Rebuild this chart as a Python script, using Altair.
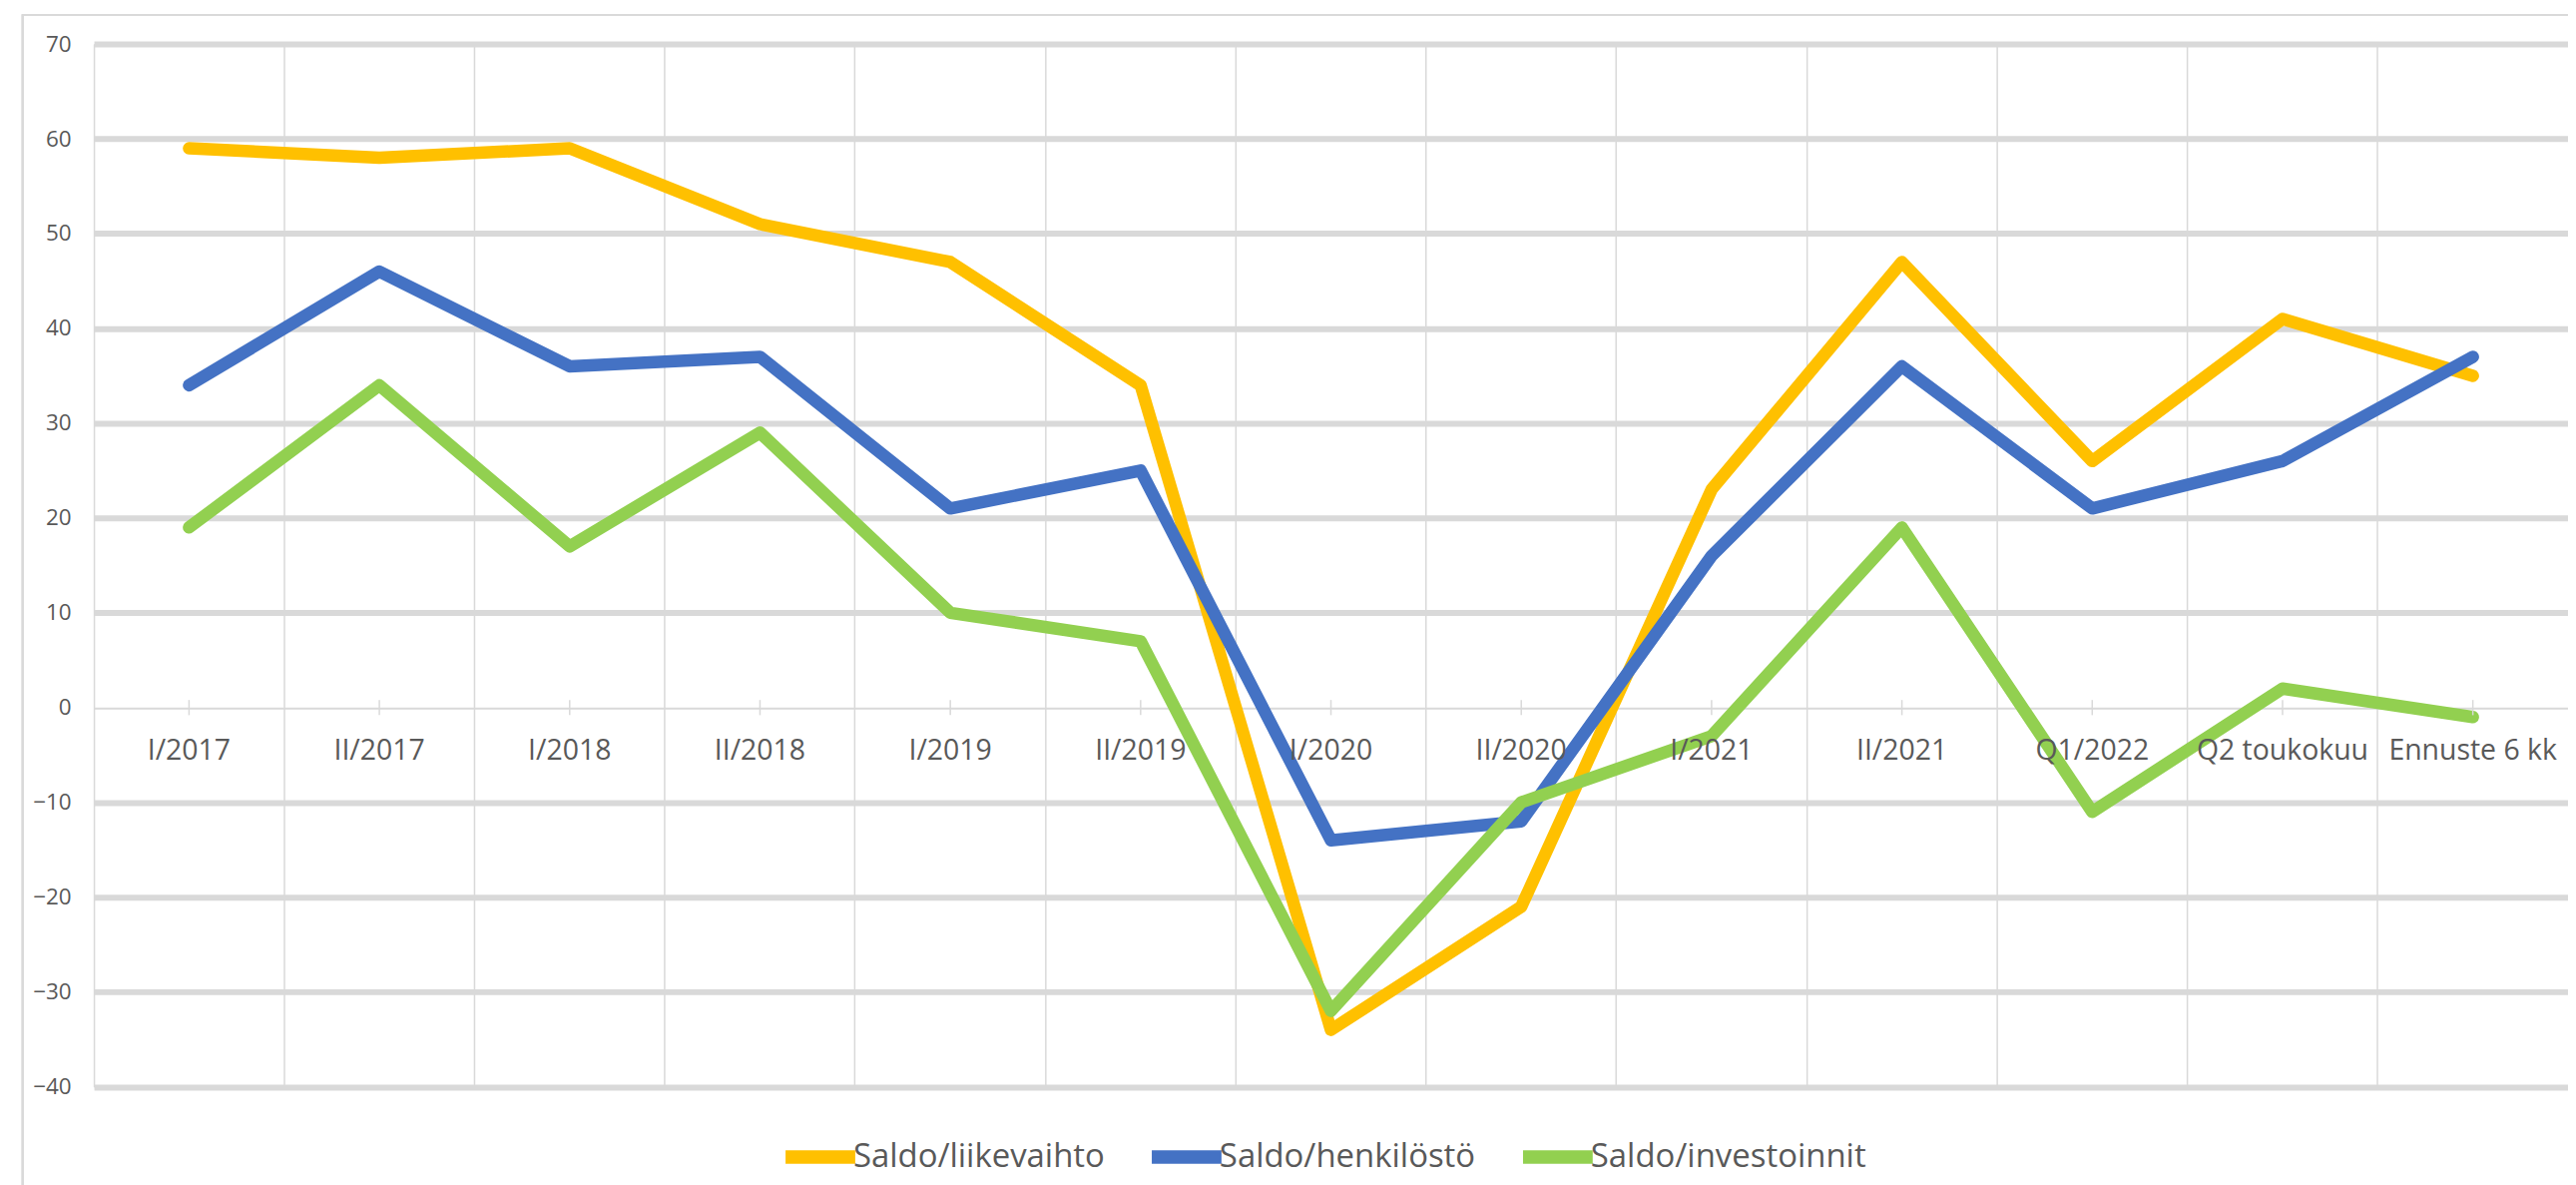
import altair as alt
import pandas as pd

categories = ["I/2017", "II/2017", "I/2018", "II/2018", "I/2019", "II/2019",
              "I/2020", "II/2020", "I/2021", "II/2021", "Q1/2022",
              "Q2 toukokuu", "Ennuste 6 kk"]
series_names = ["Saldo/liikevaihto", "Saldo/henkilöstö", "Saldo/investoinnit"]
liikevaihto = [59, 58, 59, 51, 47, 34, -34, -21, 23, 47, 26, 41, 35]
henkilosto = [34, 46, 36, 37, 21, 25, -14, -12, 16, 36, 21, 26, 37]
investoinnit = [19, 34, 17, 29, 10, 7, -32, -10, -3, 19, -11, 2, -1]
colors = ["#FFC000", "#4472C4", "#92D050"]
y_ticks = [-40, -30, -20, -10, 0, 10, 20, 30, 40, 50, 60, 70]

rows = []
for name, vals in zip(series_names, [liikevaihto, henkilosto, investoinnit]):
    for c, v in zip(categories, vals):
        rows.append({"kategoria": c, "sarja": name, "arvo": v})
df = pd.DataFrame(rows)
cat_df = pd.DataFrame({"kategoria": categories})

W = 2486
H = 1047.5
FONT = "Open Sans"
TXT = "#595959"
GRID = "#D9D9D9"

xenc = alt.X("kategoria:N", sort=categories, bandPosition=0.5,
             scale=alt.Scale(type="band", paddingInner=0, paddingOuter=0),
             axis=alt.Axis(title=None, labels=False, ticks=False, domain=False,
                           grid=True, bandPosition=0, gridColor=GRID,
                           gridWidth=1.5))
yscale = alt.Scale(domain=[-40, 70], nice=False, zero=False)

lines = alt.Chart(df).mark_line(strokeWidth=12.5, strokeCap="round",
                                strokeJoin="round").encode(
    x=xenc,
    y=alt.Y("arvo:Q", scale=yscale,
            axis=alt.Axis(title=None, values=y_ticks, grid=True, domain=False,
                          ticks=False, labelFontSize=22.5, labelFont=FONT,
                          labelColor=TXT, labelPadding=23, gridColor=GRID,
                          gridWidth={"condition": {"test": "datum.value === 0",
                                                   "value": 2},
                                     "value": 6})),
    color=alt.Color("sarja:N", sort=series_names,
                    scale=alt.Scale(domain=series_names, range=colors),
                    legend=alt.Legend(title=None, orient="none",
                                      direction="horizontal",
                                      legendX=688, legendY=1076,
                                      symbolType="stroke", symbolSize=4900,
                                      symbolStrokeWidth=13.5, labelFontSize=33,
                                      labelFont=FONT, labelColor=TXT,
                                      labelLimit=600,
                                      labelOffset={"expr": "-9"},
                                      columnPadding=20,
                                      padding=0)),
    order=alt.Order("idx:Q"),
).transform_calculate(
    idx="indexof(['Saldo/liikevaihto','Saldo/henkilöstö','Saldo/investoinnit'], datum.sarja)"
)

ticks = alt.Chart(cat_df).mark_rule(color=GRID, strokeWidth=1.5).encode(
    x=alt.X("kategoria:N", sort=categories, bandPosition=0.5),
    y=alt.datum(-0.8, scale=yscale),
    y2=alt.datum(0.8),
)

labels = alt.Chart(cat_df).mark_text(font=FONT, fontSize=28.5, color=TXT,
                                     baseline="alphabetic", dy=52).encode(
    x=alt.X("kategoria:N", sort=categories, bandPosition=0.5),
    y=alt.datum(0, scale=yscale),
    text="kategoria:N",
)

border = alt.Chart(cat_df).mark_rect(fill=None, stroke=GRID, strokeWidth=1.5,
                                     clip=False).encode(
    x=alt.value(-71.6), x2=alt.value(W + 200),
    y=alt.value(-29.2), y2=alt.value(H + 300),
)

chart = alt.layer(border, lines, ticks, labels).properties(
    width=W, height=H,
    autosize=alt.AutoSizeParams(type="none"),
    padding={"left": 86.3, "top": 34.5, "right": 0, "bottom": 97},
).configure_view(stroke=None).configure(background="white")

chart.save("out.html", embed_options={"renderer": "svg", "actions": False})
